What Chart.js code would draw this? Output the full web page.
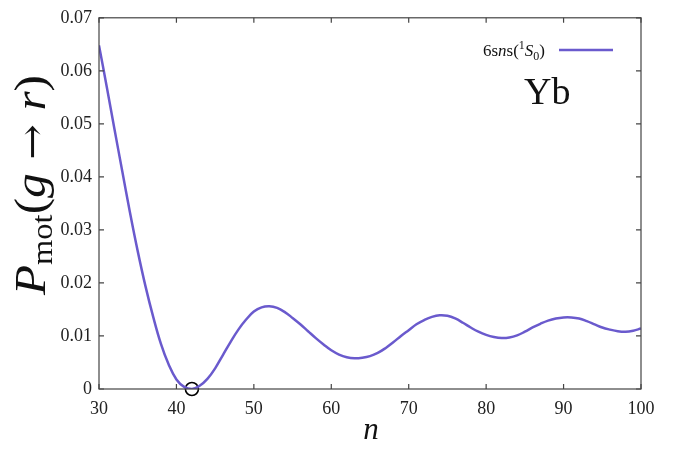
<!DOCTYPE html>
<html>
<head>
<meta charset="utf-8">
<script src="https://cdn.jsdelivr.net/npm/chart.js@4/dist/chart.umd.min.js"></script>
<style>
  html, body { margin: 0; padding: 0; background: #fff; }
  #wrap { width: 681px; height: 454px; position: relative; }
</style>
</head>
<body>
<div id="wrap"><canvas id="grafico"></canvas></div>
<script>
// Valores: n frente a P_mot(g -> r)
const nValores = [30, 31, 32, 33, 34, 35, 36, 37, 38, 39, 40, 41, 42, 43, 44, 45, 46, 47, 48, 49,
  50, 51, 52, 53, 54, 55, 56, 57, 58, 59, 60, 61, 62, 63, 64, 65, 66, 67, 68, 69,
  70, 71, 72, 73, 74, 75, 76, 77, 78, 79, 80, 81, 82, 83, 84, 85, 86, 87, 88, 89,
  90, 91, 92, 93, 94, 95, 96, 97, 98, 99, 100];
const pMot = [0.0648, 0.0570, 0.0490, 0.0411, 0.0333, 0.0260, 0.0194, 0.0136, 0.0085, 0.0046,
  0.0018, 0.0004, 0.0000, 0.0006, 0.0019, 0.0039, 0.0064, 0.0089, 0.0112, 0.0131,
  0.0146, 0.0154, 0.0156, 0.0153, 0.0145, 0.0134, 0.0122, 0.0109, 0.0096, 0.0084,
  0.0073, 0.0065, 0.0060, 0.0058, 0.0059, 0.0062, 0.0068, 0.0077, 0.0088, 0.0100,
  0.0111, 0.0122, 0.0130, 0.0136, 0.0139, 0.0138, 0.0133, 0.0125, 0.0116, 0.0108,
  0.0102, 0.0098, 0.0096, 0.0097, 0.0101, 0.0108, 0.0116, 0.0123, 0.0129, 0.0133,
  0.0135, 0.0135, 0.0133, 0.0128, 0.0122, 0.0116, 0.0112, 0.0109, 0.0108, 0.0110, 0.0114];
// Mínimo marcado con un círculo
const minimoN = [42];
const minimoP = [0];
const ticksX = [30, 40, 50, 60, 70, 80, 90, 100];
const ticksY = [0, 0.01, 0.02, 0.03, 0.04, 0.05, 0.06, 0.07];

const SERIF = '"Liberation Serif", "DejaVu Serif", serif';
const COLOR_LINEA = 'rgb(106, 90, 205)';
const COLOR_EJE = '#444';

// Dibuja texto compuesto por trozos (cursiva, subíndices...)
function textoRico(ctx, partes, x, y, align) {
  let ancho = 0;
  partes.forEach(p => { ctx.font = p.font; p.w = ctx.measureText(p.t).width; ancho += p.w; });
  let cx = align === 'right' ? x - ancho : (align === 'center' ? x - ancho / 2 : x);
  ctx.textAlign = 'left';
  ctx.textBaseline = 'alphabetic';
  partes.forEach(p => {
    ctx.font = p.font;
    ctx.fillText(p.t, cx, y + (p.dy || 0));
    cx += p.w;
  });
}

const marcoPlugin = {
  id: 'marco',
  afterDatasetsDraw(chart) {
    const { ctx, chartArea: a, scales } = chart;
    ctx.save();
    ctx.strokeStyle = COLOR_EJE;
    ctx.lineWidth = 1.2;
    ctx.strokeRect(a.left, a.top, a.right - a.left, a.bottom - a.top);
    // marcas hacia dentro en los cuatro lados
    const L = 5;
    ctx.beginPath();
    ticksX.forEach(v => {
      const px = scales.x.getPixelForValue(v);
      ctx.moveTo(px, a.bottom); ctx.lineTo(px, a.bottom - L);
      ctx.moveTo(px, a.top); ctx.lineTo(px, a.top + L);
    });
    ticksY.forEach(v => {
      const py = scales.y.getPixelForValue(v);
      ctx.moveTo(a.left, py); ctx.lineTo(a.left + L, py);
      ctx.moveTo(a.right, py); ctx.lineTo(a.right - L, py);
    });
    ctx.stroke();
    ctx.restore();
  },
  afterDraw(chart) {
    const ctx = chart.ctx;
    ctx.save();
    ctx.fillStyle = '#111';

    // título eje x
    textoRico(ctx, [{ t: 'n', font: 'italic 31px ' + SERIF }], 371, 439, 'center');

    // título eje y (girado)
    ctx.save();
    ctx.translate(45, 185);
    ctx.rotate(-Math.PI / 2);
    ctx.scale(1.12, 1);
    textoRico(ctx, [
      { t: 'P', font: 'italic 44px ' + SERIF },
      { t: 'mot', font: '29px ' + SERIF, dy: 7 },
      { t: '(', font: '44px ' + SERIF },
      { t: 'g', font: 'italic 44px ' + SERIF },
      { t: ' \u2192 ', font: '38px "DejaVu Serif", serif' },
      { t: 'r', font: 'italic 44px ' + SERIF },
      { t: ')', font: '44px ' + SERIF }
    ], 0, 0, 'center');
    ctx.restore();

    // leyenda
    textoRico(ctx, [
      { t: '6s', font: '17px ' + SERIF },
      { t: 'n', font: 'italic 17px ' + SERIF },
      { t: 's(', font: '17px ' + SERIF },
      { t: '1', font: '12px ' + SERIF, dy: -7 },
      { t: 'S', font: 'italic 17px ' + SERIF },
      { t: '0', font: '12px ' + SERIF, dy: 4 },
      { t: ')', font: '17px ' + SERIF }
    ], 545, 56, 'right');
    ctx.strokeStyle = COLOR_LINEA;
    ctx.lineWidth = 2.5;
    ctx.beginPath();
    ctx.moveTo(559, 50);
    ctx.lineTo(613, 50);
    ctx.stroke();

    // etiqueta del elemento
    textoRico(ctx, [{ t: 'Yb', font: '38px ' + SERIF }], 524, 104, 'left');
    ctx.restore();
  }
};

document.addEventListener('DOMContentLoaded', function() {
  const ctx = document.getElementById('grafico');
  new Chart(ctx, {
    type: 'line',
    data: {
      datasets: [{
        label: '6sns(1S0)',
        data: nValores.map((n, i) => ({ x: n, y: pMot[i] })),
        borderColor: COLOR_LINEA,
        borderWidth: 2.5,
        pointRadius: 0,
        tension: 0.4,
        fill: false
      }, {
        label: 'mínimo',
        data: minimoN.map((n, i) => ({ x: n, y: minimoP[i] })),
        showLine: false,
        pointRadius: 6.5,
        pointBorderWidth: 1.6,
        pointBorderColor: '#000',
        pointBackgroundColor: 'rgba(0,0,0,0)',
        clip: false
      }]
    },
    options: {
      responsive: true,
      maintainAspectRatio: false,
      animation: false,
      layout: { padding: { top: 13, right: 40, left: 0, bottom: 0 } },
      plugins: { legend: { display: false }, tooltip: { enabled: false } },
      scales: {
        x: {
          type: 'linear',
          min: 30, max: 100,
          afterBuildTicks: s => { s.ticks = ticksX.map(v => ({ value: v })); },
          afterFit: s => { s.height = 65; },
          grid: { display: false, drawTicks: false },
          border: { display: false },
          ticks: {
            padding: 9,
            maxRotation: 0,
            color: '#222',
            font: { family: SERIF, size: 18 },
            callback: v => String(v)
          }
        },
        y: {
          type: 'linear',
          min: 0, max: 0.07,
          afterBuildTicks: s => { s.ticks = ticksY.map(v => ({ value: v })); },
          afterFit: s => { s.width = 99; },
          grid: { display: false, drawTicks: false },
          border: { display: false },
          ticks: {
            padding: 7,
            color: '#222',
            font: { family: SERIF, size: 18 },
            callback: v => v === 0 ? '0' : v.toFixed(2)
          }
        }
      }
    },
    plugins: [marcoPlugin]
  });
});
</script>
</body>
</html>
